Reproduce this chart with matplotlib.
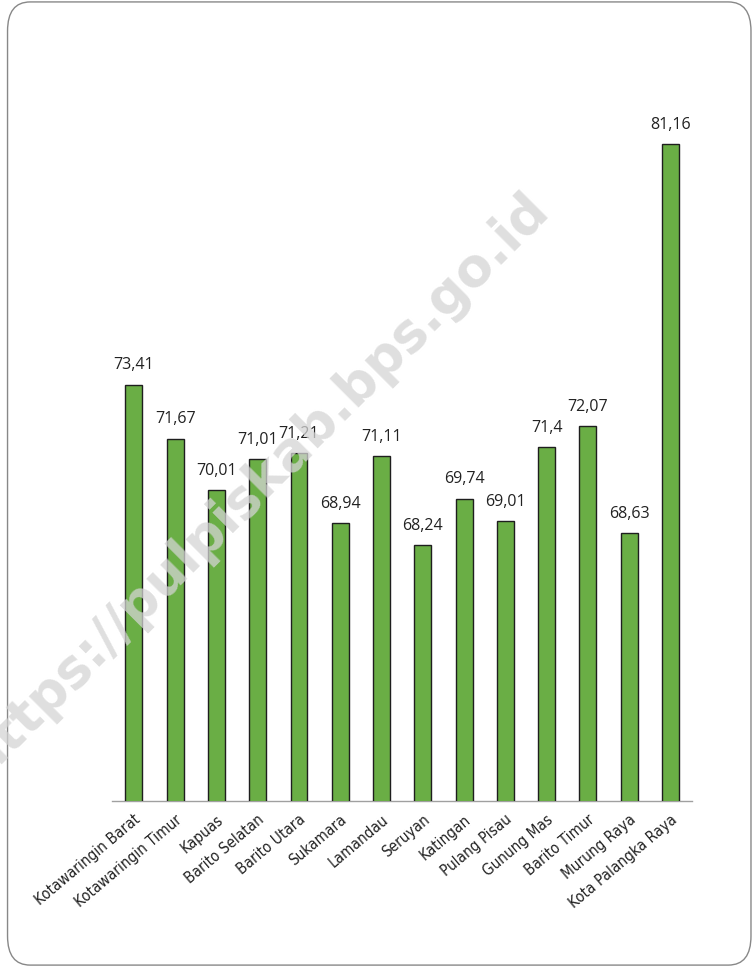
import matplotlib
matplotlib.use('Agg')
import matplotlib.pyplot as plt
from matplotlib.patches import FancyBboxPatch
from matplotlib import font_manager

# kabupaten/kota names and values
regions = ['Kotawaringin Barat', 'Kotawaringin Timur', 'Kapuas', 'Barito Selatan',
           'Barito Utara', 'Sukamara', 'Lamandau', 'Seruyan', 'Katingan',
           'Pulang Pisau', 'Gunung Mas', 'Barito Timur', 'Murung Raya',
           'Kota Palangka Raya']
values = [73.41, 71.67, 70.01, 71.01, 71.21, 68.94, 71.11, 68.24, 69.74,
          69.01, 71.4, 72.07, 68.63, 81.16]
value_labels = ['73,41', '71,67', '70,01', '71,01', '71,21', '68,94', '71,11',
                '68,24', '69,74', '69,01', '71,4', '72,07', '68,63', '81,16']

# condensed font for the category names if one is available
names = set(f.name for f in font_manager.fontManager.ttflist)
cond = 'DejaVu Sans Condensed' if 'DejaVu Sans Condensed' in names else 'DejaVu Sans'
print(sorted(n for n in names if 'Narrow' in n or 'Condensed' in n))

fig = plt.figure(figsize=(7.54, 9.68), dpi=100)
ax = fig.add_axes([0.1485, 0.1725, 0.7692, 0.7655])

x = list(range(len(regions)))
ax.bar(x, values, width=0.41, color='#6aae45', edgecolor='#1e1e1e', linewidth=1.0, zorder=3)
ax.set_ylim(60, 83.86)
ax.set_xlim(-0.53, len(regions) - 1 + 0.52)

# value labels above the bars
for xi, v, lab in zip(x, values, value_labels):
    ax.annotate(lab, (xi, v), xytext=(0, 8), textcoords='offset points',
                ha='center', va='bottom', fontsize=11.5, family='Open Sans', color='#222222')

# axes styling
for s in ['top', 'right', 'left']:
    ax.spines[s].set_visible(False)
ax.spines['bottom'].set_color('#a0a0a0')
ax.spines['bottom'].set_linewidth(1.0)
ax.set_yticks([])
ax.set_xticks(x)
ax.set_xticklabels(regions, rotation=40, ha='right', rotation_mode='anchor',
                   fontsize=11, family=cond, stretch='condensed', color='#222222')
ax.tick_params(axis='x', length=0, pad=8)

# watermark
fig.text(0.34, 0.50, 'https://pulpiskab.bps.go.id', rotation=45, ha='center', va='center',
         fontsize=38, fontweight='bold', color='#d4d4d4', alpha=0.75, zorder=10)

# rounded border
border = FancyBboxPatch((0.008 + 0.022, 0.003 + 0.02), 0.99 - 0.044, 0.995 - 0.04,
                        boxstyle='round,pad=0.02,rounding_size=0.03',
                        transform=fig.transFigure, facecolor='none',
                        edgecolor='#888888', linewidth=1.0)
fig.patches.append(border)

plt.savefig('out.png', dpi=100)
